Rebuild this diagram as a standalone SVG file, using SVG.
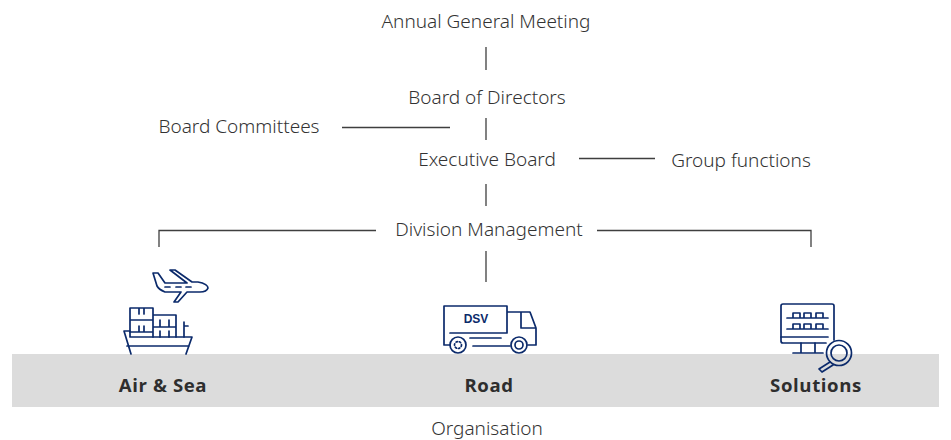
<svg xmlns="http://www.w3.org/2000/svg" width="951" height="440" viewBox="0 0 951 440">
<style>
text{font-family:"Noto Sans","Open Sans","Liberation Sans",sans-serif;font-size:19px;fill:#333;text-anchor:middle;font-weight:300}
.b{font-family:"Open Sans","Noto Sans",sans-serif;font-weight:700;font-size:18.600px;fill:#2e2e2e;letter-spacing:.6px}
.c{fill:none;stroke:#3f3f3f;stroke-width:1.300}
.i{fill:none;stroke:#0b2a6b;stroke-width:1.700;stroke-linejoin:round;stroke-linecap:round}
</style>
<rect x="12" y="354" width="927" height="53" fill="#dcdcdc"/>
<g id="connectors">
<path class="c" d="M486 47V70M486 118V140M342 127.500H450M579 158.500H655M486 184V206M486 251V282M376 230.500H159V247M597 230.500H811V247"/>
</g>
<g id="agm"><text x="486" y="28">Annual General Meeting</text></g>
<g id="board-directors"><text x="487" y="104">Board of Directors</text></g>
<g id="board-committees"><text x="239" y="133">Board Committees</text></g>
<g id="executive-board"><text x="487" y="166">Executive Board</text></g>
<g id="group-functions"><text x="741" y="167">Group functions</text></g>
<g id="division-management"><text x="489" y="236">Division Management</text></g>
<g id="air-sea">
<path class="i" d="M153 273H158L165 283H187L170 270H175L192 282H198C205 283 208 286 208 288C207 291 203 292 200 292H187L178 302H174L181 292H165C160 290 158 288 157 286Z M165 287H170M176 287H181M186 287H191"/>
<path class="i" d="M130 308H153V332H130ZM130 320H153M153 315H176V337M153 315V337M153 327H176M139 308V314M144 308V314M139 326V332M144 326V332M160 320V327M169 320V327M160 331V337M169 331V337M184 337V322M184 326H188"/>
<path class="i" d="M124 331H130V337H192L186 354M124 331L131 354M127 346H189"/>
<text class="b" x="163" y="392">Air &amp; Sea</text>
</g>
<g id="road">
<path class="i" d="M450 345H444V306H507V333M450 333H507M507 312H530L536 328V345H528M521 312V328H536M470 338H501M473 346H510"/>
<circle class="i" cx="458" cy="345" r="8"/><circle class="i" cx="458" cy="345" r="3.500" stroke-dasharray="1.500 2"/>
<circle class="i" cx="519" cy="345" r="8"/><circle class="i" cx="519" cy="345" r="4"/>
<text x="476" y="323" style="font-family:'Liberation Sans',sans-serif;font-weight:700;font-size:12px;fill:#0b2a6b">DSV</text>
<text class="b" x="489" y="392">Road</text>
</g>
<g id="solutions">
<path class="i" d="M826 343H783Q781 343 781 341V306Q781 304 783 304H832Q834 304 834 306V340"/>
<path class="i" d="M781 337H828M801 343V353M815 343V353M793 353H823M787 318H828M787 329H828M793 313H800V318H793ZM804 313H811V318H804ZM816 313H823V318H816ZM793 324H800V329H793ZM804 324H811V329H804ZM816 324H823V329H816Z"/>
<circle cx="839" cy="353" r="12.500" fill="none" stroke="#0b2a6b" stroke-width="1.700"/>
<circle class="i" cx="839" cy="353" r="8"/>
<path class="i" d="M830 362L819 369L822 372L833 365"/>
<text class="b" x="816" y="392">Solutions</text>
</g>
<g id="organisation"><text x="487" y="435">Organisation</text></g>
</svg>
